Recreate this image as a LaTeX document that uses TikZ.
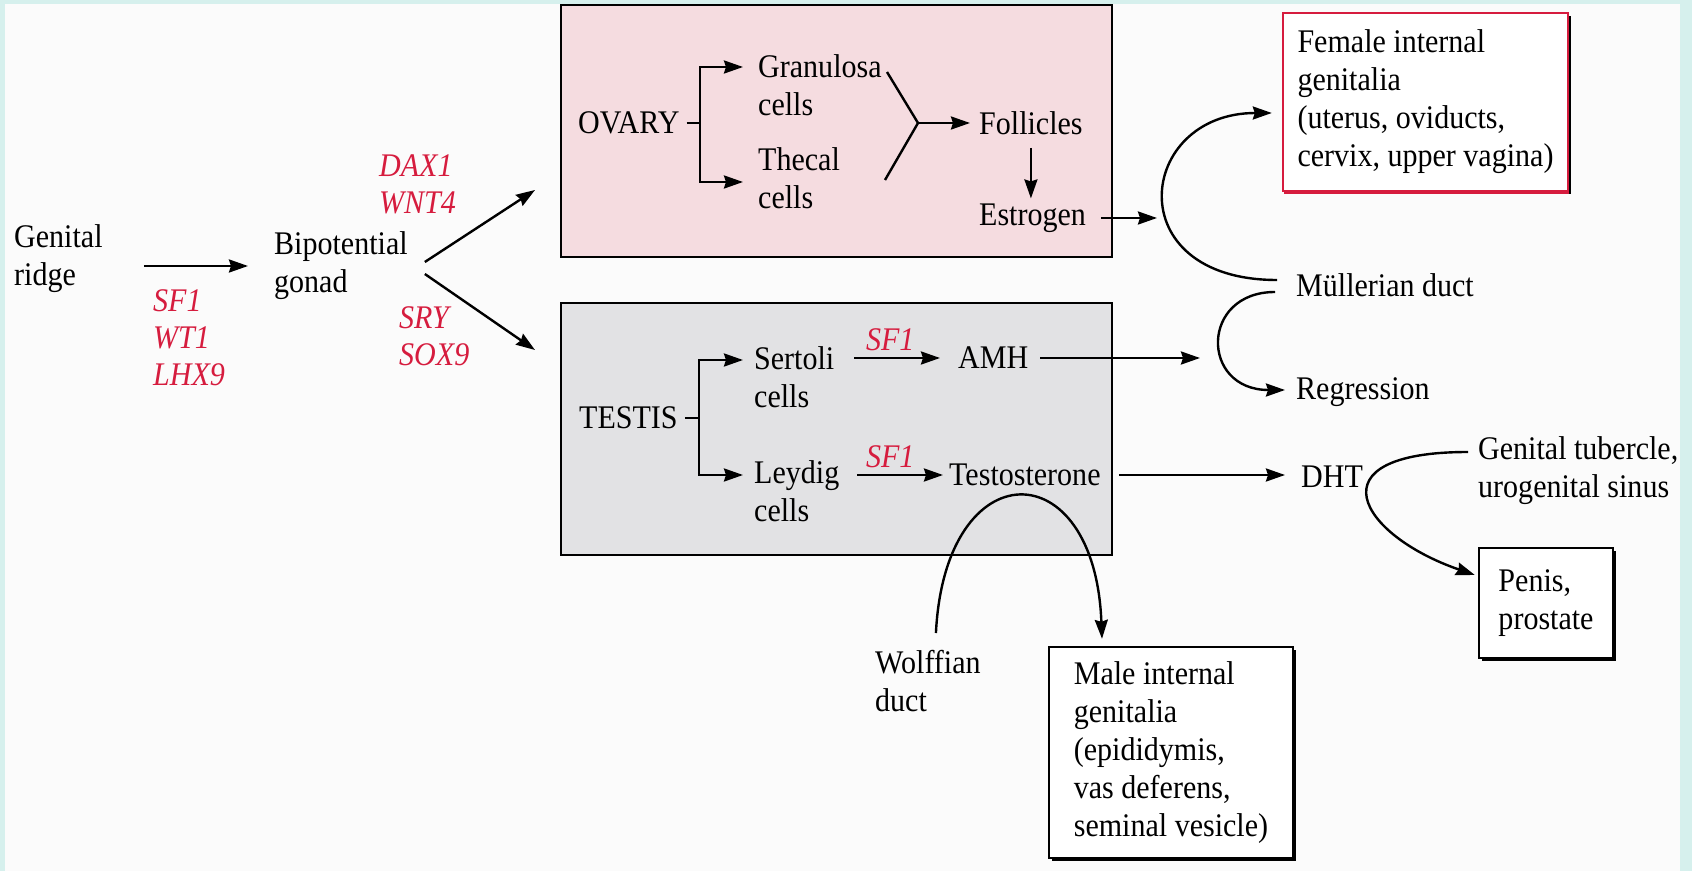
\documentclass[tikz,border=0pt]{standalone}
\usepackage{fontspec}
\setmainfont{Liberation Serif}[FakeStretch=0.91]
\usetikzlibrary{arrows.meta,shadows}
\definecolor{ovpink}{RGB}{245,220,224}
\definecolor{tegray}{RGB}{226,226,228}
\definecolor{genered}{RGB}{214,28,62}
\definecolor{edgecyan}{RGB}{214,240,237}
\definecolor{paper}{RGB}{251,251,251}

\begin{document}
\begin{tikzpicture}[x=0.5pt, y=-0.5pt, line width=1.2pt,
  txt/.style={anchor=west, align=left, inner sep=0pt, font=\fontsize{16.5}{19}\selectfont},
  gene/.style={txt, text=genered, font=\fontsize{16.5}{18.5}\selectfont\itshape},
  arr/.style={-{Stealth[length=9.5pt, width=6.5pt, inset=1pt]}},
  panel/.style={draw, minimum width=275.5pt, minimum height=126pt, inner sep=0pt},
  organ/.style={draw, fill=white, align=left, inner sep=0pt, font=\fontsize{16.5}{19}\selectfont,
    drop shadow={shadow xshift=1.5pt, shadow yshift=-1.5pt, fill=black, opacity=1}}]
\useasboundingbox (0,0) rectangle (1692,871);
\fill[edgecyan] (0,0) rectangle (1692,871);
\fill[paper] (5,4) rectangle (1680,871);
% the two gonads
\node[panel, fill=ovpink] (ovbox) at (836.5,131) {};
\node[panel, fill=tegray] (tebox) at (836.5,429) {};
\node[txt] (gr) at (13,259) {Genital\\ridge};
\node[gene] (sfone) at (152,338) {SF1\\WT1\\LHX9};
\node[txt] (bg) at (273,266) {Bipotential\\gonad};
\node[gene] (dax) at (378,184) {DAX1\\WNT4};
\node[gene] (sry) at (398,336) {SRY\\SOX9};
\node[txt] (ov) at (577,123) {OVARY};
\node[txt] (gran) at (757,85) {Granulosa\\cells};
\node[txt] (thec) at (757,178) {Thecal\\cells};
\node[txt] (foll) at (978,123) {Follicles};
\node[txt] (estr) at (978,218) {Estrogen};
\node[txt] (te) at (578,418) {TESTIS};
\node[txt] (sert) at (753,377) {Sertoli\\cells};
\node[txt] (leyd) at (753,491) {Leydig\\cells};
\node[txt] (amh) at (957,358) {AMH};
\node[txt] (testo) at (948,475) {Testosterone};
\node[txt] (mull) at (1295,285) {Müllerian duct};
\node[txt] (regr) at (1295,392) {Regression};
\node[txt] (dht) at (1300,477) {DHT};
\node[txt] (gt) at (1477,471) {Genital tubercle,\\urogenital sinus};
\node[txt] (wolf) at (874,681) {Wolffian\\duct};
\node[organ, draw=genered, minimum width=142.5pt, minimum height=89pt,
  drop shadow={shadow xshift=0.5pt, shadow yshift=-1.5pt, fill=genered, opacity=1}] (fem) at (1425.5,102)
  {Female internal\\genitalia\\(uterus, oviducts,\\cervix, upper vagina)};
\node[organ, minimum width=122pt, minimum height=105.5pt] (male) at (1171,752.5)
  {Male internal\\genitalia\\(epididymis,\\vas deferens,\\seminal vesicle)};
\node[organ, minimum width=67pt, minimum height=55pt] (penis) at (1546,603) {Penis,\\prostate};
% free ends
\coordinate (ovin) at (535,190);
\coordinate (tein) at (535,350);
\coordinate (ovf) at (700,123);
\coordinate (tef) at (699,418);
\coordinate (ytop) at (887,72);
\coordinate (ybot) at (885,180);
\coordinate (ymrg) at (918,123);
\coordinate (esttip) at (1157,218);
\coordinate (amhtip) at (1200,360);
\draw[arr, shorten <=20pt, shorten >=12.5pt] (gr.east |- bg.west) -- (bg.west);
\foreach \t/\dy in {ovin/-4, tein/8}{ \draw[arr] ([shift={(16,\dy)}]bg.east) -- (\t);}
% ovary
\draw[shorten <=3pt] (ov.east) -- (ovf);
\draw[arr, shorten >=7pt] (ovf) |- ([yshift=9pt]gran.west);
\draw[arr, shorten >=7pt] (ovf) |- ([yshift=-2pt]thec.west);
\draw (ytop) -- (ymrg) -- (ybot);
\draw[arr, shorten >=4pt] (ymrg) -- (foll.west);
\draw[arr, shorten <=6pt, shorten >=2pt] (foll.south) -- (foll.south |- estr.north);
\draw[arr, shorten <=7pt] (estr.east) -- (esttip);
\draw[arr] ([shift={(-18,-5)}]mull.west) .. controls +(-160,0) and +(-135,0) .. ([shift={(-10,11)}]fem.west);
\draw[arr] ([shift={(-20,7)}]mull.west) .. controls +(-75,0) and +(-85,0) .. ([shift={(-10,-2)}]regr.west);
% testis
\draw[shorten <=3pt] (te.east) -- (tef);
\draw[arr, shorten >=5pt] (tef) |- ([yshift=8.5pt]sert.west);
\draw[arr, shorten >=5pt] (tef) |- ([yshift=8pt]leyd.west);
\draw[arr, shorten <=9.5pt, shorten >=8.5pt] (sert.east |- amh.west) -- node[gene, anchor=south, yshift=3pt, xshift=-3pt] {SF1} (amh.west);
\draw[arr, shorten <=8.5pt, shorten >=2.5pt] (leyd.east |- testo.west) -- node[gene, anchor=south, yshift=3pt, xshift=-2pt] {SF1} (testo.west);
\draw[arr, shorten <=5.5pt] (amh.east) -- (amh.east -| amhtip);
\draw[arr, shorten <=8.5pt, shorten >=7.5pt] (testo.east) -- (testo.east -| dht.west);
\draw[arr] ([shift={(8,-16)}]wolf.north) .. controls (945,450) and (1095,450) .. ([shift={(-69,-7)}]male.north);
\draw[arr] ([shift={(-9,-19)}]gt.west) .. controls +(-158,0) and +(-116,-40) .. ([shift={(-3,-28)}]penis.west);
\end{tikzpicture}
\end{document}
